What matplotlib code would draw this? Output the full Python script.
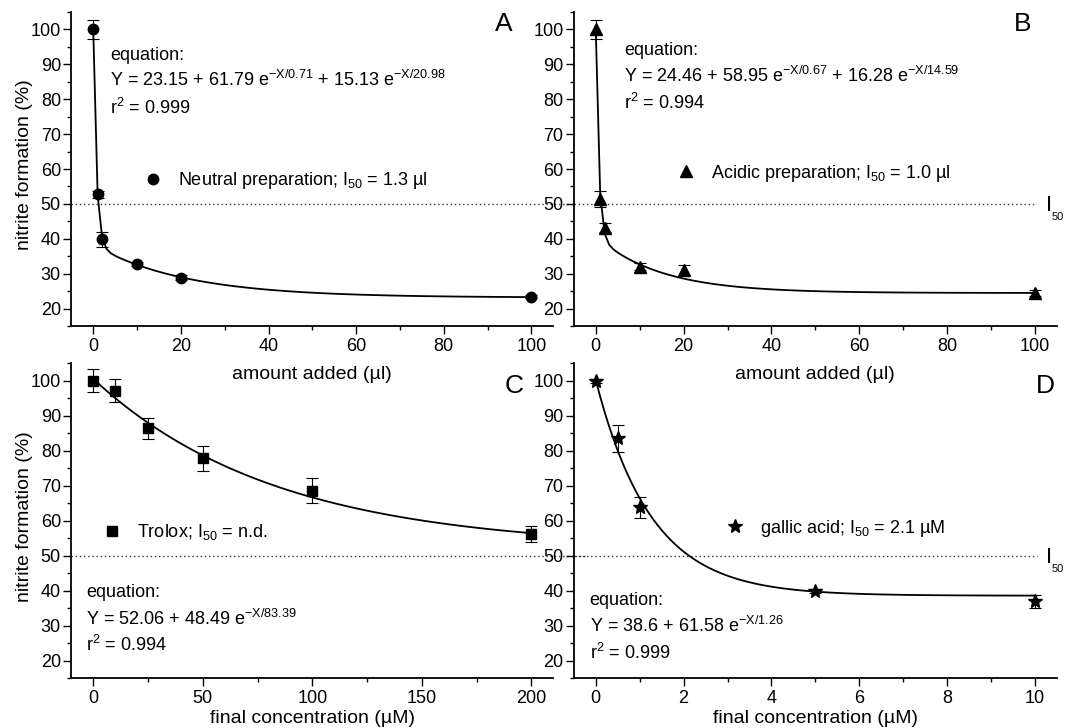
import numpy as np
import matplotlib.pyplot as plt
from matplotlib.lines import Line2D

plt.rcParams['font.family'] = ['Liberation Sans', 'DejaVu Sans']
plt.rcParams['mathtext.fontset'] = 'custom'
plt.rcParams['mathtext.rm'] = 'Liberation Sans'
plt.rcParams['mathtext.it'] = 'Liberation Sans:italic'
plt.rcParams['mathtext.default'] = 'regular'
plt.rcParams['font.size'] = 13

# A - neutral preparation
neutral_x = [0, 1, 2, 10, 20, 100]
neutral_y = [100, 52.8, 39.8, 32.7, 28.9, 23.4]
neutral_err = [2.7, 1.0, 2.1, 0.6, 0.6, 0.5]
neutral_fit = [23.15, 61.79, 0.71, 15.13, 20.98]

# B - acidic preparation
acidic_x = [0, 1, 2, 10, 20, 100]
acidic_y = [100, 51.4, 43.2, 32.0, 31.0, 24.4]
acidic_err = [2.7, 2.3, 1.3, 1.0, 1.5, 0.8]
acidic_fit = [24.46, 58.95, 0.67, 16.28, 14.59]

# C - trolox
trolox_x = [0, 10, 25, 50, 100, 200]
trolox_y = [100, 97.2, 86.4, 77.8, 68.6, 56.2]
trolox_err = [3.3, 3.4, 3.0, 3.6, 3.6, 2.2]
trolox_fit = [52.06, 48.49, 83.39]

# D - gallic acid
gallic_x = [0, 0.5, 1, 5, 10]
gallic_y = [100, 83.6, 63.8, 40.0, 37.0]
gallic_err = [0.5, 3.9, 3.0, 0.6, 1.9]
gallic_fit = [38.6, 61.58, 1.26]


def fit_curve(x, p):
    # y0 + A1*exp(-x/t1) (+ A2*exp(-x/t2))
    y = np.full_like(x, p[0])
    for a, t in zip(p[1::2], p[2::2]):
        y = y + a * np.exp(-x / t)
    return y


fig = plt.figure(figsize=(10.66, 7.28), dpi=100)

panels = [
    dict(pos=[0.0669, 0.5522, 0.4522, 0.4313], x=neutral_x, y=neutral_y, err=neutral_err, fit=neutral_fit,
         marker='o', ms=7.5, xlim=(-5, 105), xmaj=20, xmin=10, letter='A', letter_xy=(93.7, 101.7),
         xlabel='amount added (µl)', xpad=8, ylabel=True, hline_end=110, i50=False,
         leg='Neutral preparation; I$_{50}$ = 1.3 µl', leg_xy=(0.150, 0.462),
         eq_x=3.8, eq_y=[92.6, 85.5, 77.6],
         eq=['equation:', 'Y = 23.15 + 61.79 e$^{-X/0.71}$ + 15.13 e$^{-X/20.98}$', 'r$^{2}$ = 0.999']),
    dict(pos=[0.5383, 0.5522, 0.4531, 0.4313], x=acidic_x, y=acidic_y, err=acidic_err, fit=acidic_fit,
         marker='^', ms=8.5, xlim=(-5, 105), xmaj=20, xmin=10, letter='B', letter_xy=(97.2, 101.7),
         xlabel='amount added (µl)', xpad=8, ylabel=False, hline_end=100.3, i50=True,
         leg='Acidic preparation; I$_{50}$ = 1.0 µl', leg_xy=(0.213, 0.487),
         eq_x=6.5, eq_y=[94.1, 86.6, 78.8],
         eq=['equation:', 'Y = 24.46 + 58.95 e$^{-X/0.67}$ + 16.28 e$^{-X/14.59}$', 'r$^{2}$ = 0.994']),
    dict(pos=[0.0669, 0.0683, 0.4522, 0.4327], x=trolox_x, y=trolox_y, err=trolox_err, fit=trolox_fit,
         marker='s', ms=6.5, xlim=(-10, 210), xmaj=50, xmin=25, letter='C', letter_xy=(191.9, 98.4),
         xlabel='final concentration (µM)', xpad=2, ylabel=True, hline_end=225, i50=False,
         leg='Trolox; I$_{50}$ = n.d.', leg_xy=(0.0656, 0.463),
         eq_x=-3.2, eq_y=[39.6, 32.0, 24.4],
         eq=['equation:', 'Y = 52.06 + 48.49 e$^{-X/83.39}$', 'r$^{2}$ = 0.994']),
    dict(pos=[0.5383, 0.0683, 0.4531, 0.4327], x=gallic_x, y=gallic_y, err=gallic_err, fit=gallic_fit,
         marker='*', ms=10, xlim=(-0.5, 10.5), xmaj=2, xmin=1, letter='D', letter_xy=(10.23, 98.5),
         xlabel='final concentration (µM)', xpad=2, ylabel=False, hline_end=10.05, i50=True,
         leg='gallic acid; I$_{50}$ = 2.1 µM', leg_xy=(0.315, 0.477),
         eq_x=-0.14, eq_y=[37.25, 29.9, 22.3],
         eq=['equation:', 'Y = 38.6 + 61.58 e$^{-X/1.26}$', 'r$^{2}$ = 0.999']),
]

for p in panels:
    ax = fig.add_axes(p['pos'])
    ax.patch.set_visible(False)  # top row x labels sit over the lower panels
    ax.set_xlim(*p['xlim'])
    ax.set_ylim(15, 105)

    # I50 reference line
    ax.plot([p['xlim'][0], p['hline_end']], [50, 50], color='#333333', lw=1.0,
            ls=(0, (1, 2)), clip_on=False, zorder=1)

    xs = np.linspace(0, max(p['x']), 100)
    ax.plot(xs, fit_curve(xs, p['fit']), color='k', lw=1.3, zorder=2)

    ax.errorbar(p['x'], p['y'], yerr=p['err'], fmt=p['marker'], color='k', ms=p['ms'],
                ecolor='k', elinewidth=0.8, capsize=4, capthick=0.8, zorder=3)

    handle = Line2D([], [], marker=p['marker'], ls='none', color='k', ms=p['ms'])
    ax.legend([handle], [p['leg']], loc='center left', bbox_to_anchor=p['leg_xy'],
              frameon=False, handlelength=1.0, handletextpad=0.9, borderpad=0,
              borderaxespad=0, fontsize=13)

    for txt, yy in zip(p['eq'], p['eq_y']):
        ax.text(p['eq_x'], yy, txt, ha='left', va='center', fontsize=13)

    ax.text(p['letter_xy'][0], p['letter_xy'][1], p['letter'], ha='center', va='center', fontsize=19)

    if p['i50']:
        xr = p['xlim'][0] + (p['xlim'][1] - p['xlim'][0]) * 0.984
        ax.text(xr, 49.6, 'I', ha='center', va='center', fontsize=16, clip_on=False)
        ax.text(xr + (p['xlim'][1] - p['xlim'][0]) * 0.018, 46.1, '50', ha='center', va='center',
                fontsize=8, clip_on=False)

    ax.spines['top'].set_visible(False)
    ax.spines['right'].set_visible(False)
    ax.spines['left'].set_linewidth(1.3)
    ax.spines['bottom'].set_linewidth(1.3)

    ax.set_xticks(np.arange(0, p['xlim'][1] + 1e-9, p['xmaj']))
    ax.set_xticks(np.arange(0, p['xlim'][1] + 1e-9, p['xmin']), minor=True)
    ax.set_yticks(np.arange(20, 101, 10))
    ax.set_yticks(np.arange(15, 106, 5), minor=True)
    ax.tick_params(which='major', direction='out', length=6, width=1.0, labelsize=13)
    ax.tick_params(axis='y', which='major', pad=1.5)
    ax.tick_params(axis='x', which='major', pad=2.5)
    ax.tick_params(which='minor', direction='out', length=3, width=1.0)

    ax.set_xlabel(p['xlabel'], fontsize=14, labelpad=p['xpad'])
    if p['ylabel']:
        ax.set_ylabel('nitrite formation (%)', fontsize=14)
        ax.yaxis.set_label_coords(-0.079, 0.514)

fig.savefig('out.png', dpi=100)
